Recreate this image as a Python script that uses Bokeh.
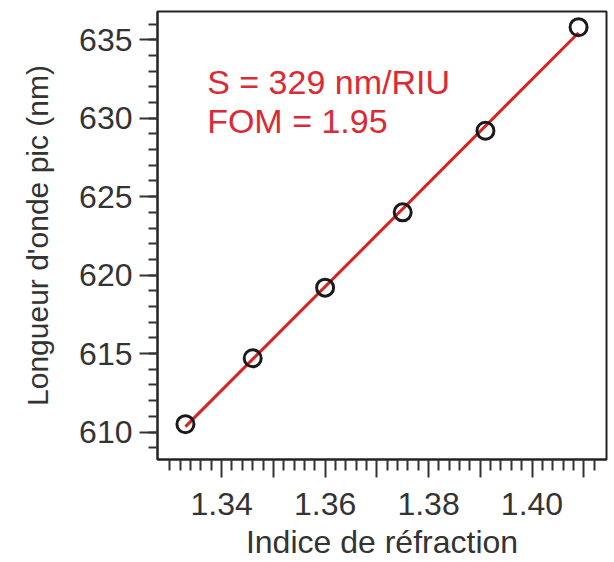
import numpy as np
from bokeh.plotting import figure
from bokeh.models import Range1d, FixedTicker, Label
from bokeh.embed import file_html
from bokeh.resources import INLINE

# Data
refractive_index = [1.333, 1.346, 1.360, 1.375, 1.391, 1.409]
peak_wavelength = [610.5, 614.7, 619.2, 624.0, 629.2, 635.8]

x_major_ticks = [1.34, 1.35, 1.36, 1.37, 1.38, 1.39, 1.40, 1.41]
x_labeled_ticks = [1.34, 1.36, 1.38, 1.40]
y_major_ticks = [610, 615, 620, 625, 630, 635]

annotation_lines = ["S = 329 nm/RIU", "FOM = 1.95"]
x_title = "Indice de réfraction"
y_title = "Longueur d'onde pic (nm)"

FONT = "Liberation Sans"
TXT = "#333333"

p = figure(width=614, height=562, output_backend="svg", toolbar_location=None,
           x_range=Range1d(1.3276, 1.4144), y_range=Range1d(608.25, 636.8),
           min_border_left=157, min_border_right=8, min_border_top=11,
           min_border_bottom=101)
p.background_fill_color = "white"
p.border_fill_color = "white"
p.outline_line_color = "#222222"
p.outline_line_width = 2
p.grid.visible = False

# Linear fit line
slope, intercept = np.polyfit(refractive_index, peak_wavelength, 1)
fx = [refractive_index[0], refractive_index[-1]]
fy = [slope * v + intercept for v in fx]
p.line(fx, fy, line_color="#dd1f1f", line_width=3)

p.scatter(refractive_index, peak_wavelength, marker="circle", size=17,
          fill_color=None, line_color="#1a1a1a", line_width=3)

# X axis ticks
x_minor = [round(1.330 + 0.002 * i, 3) for i in range(42)]
x_minor = [t for t in x_minor if t <= 1.4125 and all(abs(t - m) > 1e-6 for m in x_major_ticks)]
p.xaxis.ticker = FixedTicker(ticks=x_major_ticks, minor_ticks=x_minor)
overrides = {}
for t in x_major_ticks:
    overrides[t] = f"{t:.2f}" if any(abs(t - l) < 1e-9 for l in x_labeled_ticks) else ""
p.xaxis.major_label_overrides = overrides

y_minor = list(range(609, 637))
p.yaxis.ticker = FixedTicker(ticks=y_major_ticks, minor_ticks=y_minor)

for ax in (p.xaxis, p.yaxis):
    ax.axis_line_color = "#222222"
    ax.axis_line_width = 2
    ax.major_tick_line_color = "#333333"
    ax.minor_tick_line_color = "#333333"
    ax.major_tick_line_width = 2
    ax.minor_tick_line_width = 2
    ax.major_tick_in = 0
    ax.minor_tick_in = 0
    ax.major_label_text_font = FONT
    ax.major_label_text_font_size = "32px"
    ax.major_label_text_color = TXT
    ax.axis_label_text_font = FONT
    ax.axis_label_text_font_style = "normal"
    ax.axis_label_text_color = TXT

p.xaxis.axis_label_text_font_size = "32px"
p.yaxis.axis_label_text_font_size = "30px"

p.xaxis.major_tick_out = 18
p.xaxis.minor_tick_out = 11
p.xaxis.major_label_standoff = 15
p.xaxis.axis_label = x_title
p.xaxis.axis_label_standoff = 6

p.yaxis.major_tick_out = 18
p.yaxis.minor_tick_out = 9
p.yaxis.major_label_standoff = 7
p.yaxis.axis_label = y_title
p.yaxis.axis_label_standoff = 22

p.add_layout(Label(x=1.3372, y=632.3, text=annotation_lines[0], text_font=FONT,
                   text_font_size="34px", text_color="#dc2a35",
                   text_baseline="alphabetic"))
p.add_layout(Label(x=1.3372, y=629.8, text=annotation_lines[1], text_font=FONT,
                   text_font_size="34px", text_color="#dc2a35",
                   text_baseline="alphabetic"))

open("out.html", "w").write(file_html(p, INLINE))
